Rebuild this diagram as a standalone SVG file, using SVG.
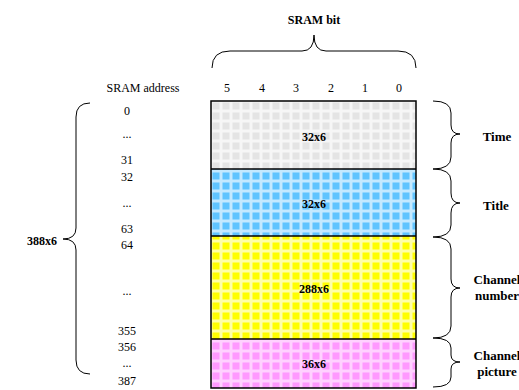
<svg xmlns="http://www.w3.org/2000/svg" width="519" height="390" viewBox="0 0 519 390">
<defs>
<style>
.t{font-family:"Liberation Serif","Times New Roman",serif;font-size:12px;fill:#000;text-anchor:middle}
.b{font-weight:bold}
.r{font-size:13px}
.br{fill:none;stroke:#000;stroke-width:1}
.sec{stroke:#000;stroke-width:1.5}
</style>
<pattern id="pg" x="211" y="101" width="10" height="10" patternUnits="userSpaceOnUse"><rect width="10" height="10" fill="#f6f6f6"/><rect x="1.5" y="1.5" width="7" height="7" fill="#e4e4e4"/></pattern>
<pattern id="pb" x="211" y="101" width="10" height="10" patternUnits="userSpaceOnUse"><rect width="10" height="10" fill="#c4e9ff"/><rect x="1.5" y="1.5" width="7" height="7" fill="#5fc4ff"/></pattern>
<pattern id="py" x="211" y="101" width="10" height="10" patternUnits="userSpaceOnUse"><rect width="10" height="10" fill="#ffffa8"/><rect x="1.5" y="1.5" width="7" height="7" fill="#ffff00"/></pattern>
<pattern id="pp" x="211" y="101" width="10" height="10" patternUnits="userSpaceOnUse"><rect width="10" height="10" fill="#ffd2ff"/><rect x="1.5" y="1.5" width="7" height="7" fill="#ff99ff"/></pattern>
</defs>
<rect width="519" height="390" fill="#fff"/>
<text class="t b" x="314" y="24">SRAM bit</text>
<g id="bits">
<text class="t" x="227" y="92">5</text>
<text class="t" x="262" y="92">4</text>
<text class="t" x="296" y="92">3</text>
<text class="t" x="331" y="92">2</text>
<text class="t" x="365" y="92">1</text>
<text class="t" x="399" y="92">0</text>
</g>
<text class="t" x="143" y="92">SRAM address</text>
<g id="addresses">
<text class="t" x="127" y="115">0</text>
<text class="t" x="127" y="138">...</text>
<text class="t" x="127" y="164">31</text>
<text class="t" x="127" y="181">32</text>
<text class="t" x="127" y="207">...</text>
<text class="t" x="127" y="233">63</text>
<text class="t" x="127" y="249">64</text>
<text class="t" x="127" y="295">...</text>
<text class="t" x="127" y="335">355</text>
<text class="t" x="127" y="351">356</text>
<text class="t" x="127" y="367">...</text>
<text class="t" x="127" y="385">387</text>
</g>
<g id="time"><rect x="211" y="101" width="205" height="68" fill="url(#pg)"/><text class="t b" x="314" y="141">32x6</text></g>
<g id="title"><rect x="211" y="169" width="205" height="67" fill="url(#pb)"/><text class="t b" x="314" y="208">32x6</text></g>
<g id="channel-number"><rect x="211" y="236" width="205" height="103" fill="url(#py)"/><text class="t b" x="314" y="293">288x6</text></g>
<g id="channel-picture"><rect x="211" y="339" width="205" height="49" fill="url(#pp)"/><text class="t b" x="314" y="368">36x6</text></g>
<g id="frame">
<rect x="211" y="101" width="205" height="287" fill="none" stroke="#000" stroke-width="1.5"/>
<line class="sec" x1="211" y1="169" x2="416" y2="169"/>
<line class="sec" x1="211" y1="236" x2="416" y2="236"/>
<line class="sec" x1="211" y1="339" x2="416" y2="339"/>
</g>
<g id="connectors">
<path class="br" d="M212,68 Q212,51 230,51 L302,51 Q314,51 314,35 Q314,51 326,51 L398,51 Q416,51 416,68"/>
<path class="br" d="M90,103 Q76,103 76,117 L76,228 Q76,239 63,239 Q76,239 76,250 L76,360 Q76,374 90,374"/>
<path class="br" d="M433,101 Q451,101 451,113 L451,125 Q451,134 460,134 Q451,134 451,143 L451,157 Q451,169 433,169"/>
<path class="br" d="M433,169 Q451,169 451,181 L451,193 Q451,203 460,203 Q451,203 451,213 L451,225 Q451,237 433,237"/>
<path class="br" d="M433,237 Q451,237 451,249 L451,279 Q451,288 460,288 Q451,288 451,297 L451,326 Q451,338 433,338"/>
<path class="br" d="M433,338 Q451,338 451,348 L451,355 Q451,362 460,362 Q451,362 451,369 L451,377 Q451,387 433,387"/>
</g>
<g id="labels">
<text class="t b" x="42" y="245">388x6</text>
<text class="t b r" x="497" y="141">Time</text>
<text class="t b r" x="496" y="210">Title</text>
<text class="t b r" x="497" y="284">Channel</text>
<text class="t b r" x="497" y="300">number</text>
<text class="t b r" x="497" y="360">Channel</text>
<text class="t b r" x="497" y="376">picture</text>
</g>
</svg>
